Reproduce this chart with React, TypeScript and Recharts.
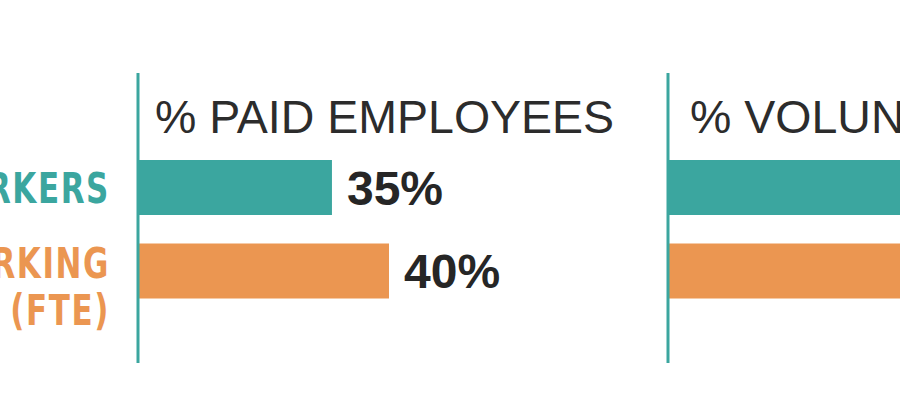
import React from 'react';
import { BarChart, Bar, XAxis, YAxis, Cell, LabelList } from 'recharts';

// data
const categories = ['WORKERS', 'WORKING (FTE)'];
const categoryLines = [['WORKERS'], ['WORKING', '(FTE)']];
const paidValues = [35, 40];
const volunteerValues = [65, 60]; // bars run off the right edge; values hidden
const panelTitles = ['% PAID EMPLOYEES', '% VOLUNTEERS'];

const barColors = ['#3ba69f', '#eb9651'];
const AXIS_COLOR = '#3ba69f';
const INK = '#262626';

const CHART_H = 400;
const AXIS_W = 138;
const SQUEEZE = 0.8; // condensed look for the category labels

interface Row {
  group: string;
  value: number;
}

function buildRows(values: number[]): Row[] {
  return categories.map((group, i) => ({ group, value: values[i] }));
}

const CategoryTick = (props: any) => {
  const { x, y, index } = props;
  const lines = categoryLines[index] || [];
  // multi-line labels sit a little higher than the bar centre
  const firstBase = lines.length > 1 ? y + 7 : y + 15.5;
  const sx = x / SQUEEZE;
  return (
    <text
      transform={`scale(${SQUEEZE},1)`}
      x={sx}
      y={firstBase}
      textAnchor="end"
      fill={barColors[index]}
      fontSize={43}
      fontWeight="bold"
      letterSpacing={2}
      fontFamily="'DejaVu Sans Condensed', 'DejaVu Sans', sans-serif"
    >
      {lines.map((line, i) => (
        <tspan key={i} x={sx} dy={i === 0 ? 0 : 47}>
          {line}
        </tspan>
      ))}
    </text>
  );
};

interface PanelProps {
  values: number[];
  title: string;
  titleOffset: number;
  left: number;
  width: number;
  domain: [number, number];
  showTicks: boolean;
}

const Panel: React.FC<PanelProps> = ({ values, title, titleOffset, left, width, domain, showTicks }) => {
  const rows = buildRows(values);
  return (
    <div style={{ position: 'absolute', left, top: 0, width, height: CHART_H }}>
      <BarChart
        width={width}
        height={CHART_H}
        data={rows}
        layout="vertical"
        margin={{ top: 73, right: 0, bottom: 37, left: 0 }}
        barSize={55}
      >
        <XAxis type="number" domain={domain} allowDataOverflow hide />
        <YAxis
          type="category"
          dataKey="group"
          width={AXIS_W}
          padding={{ top: 73, bottom: 50 }}
          axisLine={{ stroke: AXIS_COLOR, strokeWidth: 3 }}
          tickLine={false}
          tickSize={0}
          tickMargin={28}
          tick={showTicks ? <CategoryTick /> : false}
        />
        <Bar dataKey="value" isAnimationActive={false}>
          {rows.map((_, i) => (
            <Cell key={i} fill={barColors[i]} />
          ))}
          <LabelList
            dataKey="value"
            position="right"
            offset={15}
            formatter={(v: any) => `${v}%`}
            fill={INK}
            fontSize={48}
            fontWeight="bold"
            fontFamily="'Liberation Sans', Arial, sans-serif"
          />
        </Bar>
      </BarChart>
      <div
        style={{
          position: 'absolute',
          left: AXIS_W + titleOffset,
          top: 94,
          fontFamily: "'Liberation Sans', Arial, sans-serif",
          fontSize: 46.5,
          lineHeight: '46px',
          color: '#2c2c2c',
          whiteSpace: 'nowrap',
        }}
      >
        {title}
      </div>
    </div>
  );
};

export default function App() {
  return (
    <div
      style={{
        position: 'absolute',
        left: 0,
        top: 0,
        width: 900,
        height: 400,
        overflow: 'hidden',
        background: '#ffffff',
      }}
    >
      <Panel
        values={paidValues}
        title={panelTitles[0]}
        titleOffset={17}
        left={0}
        width={640}
        domain={[18, 62]}
        showTicks
      />
      <Panel
        values={volunteerValues}
        title={panelTitles[1]}
        titleOffset={22}
        left={530}
        width={845}
        domain={[18, 80]}
        showTicks={false}
      />
    </div>
  );
}
